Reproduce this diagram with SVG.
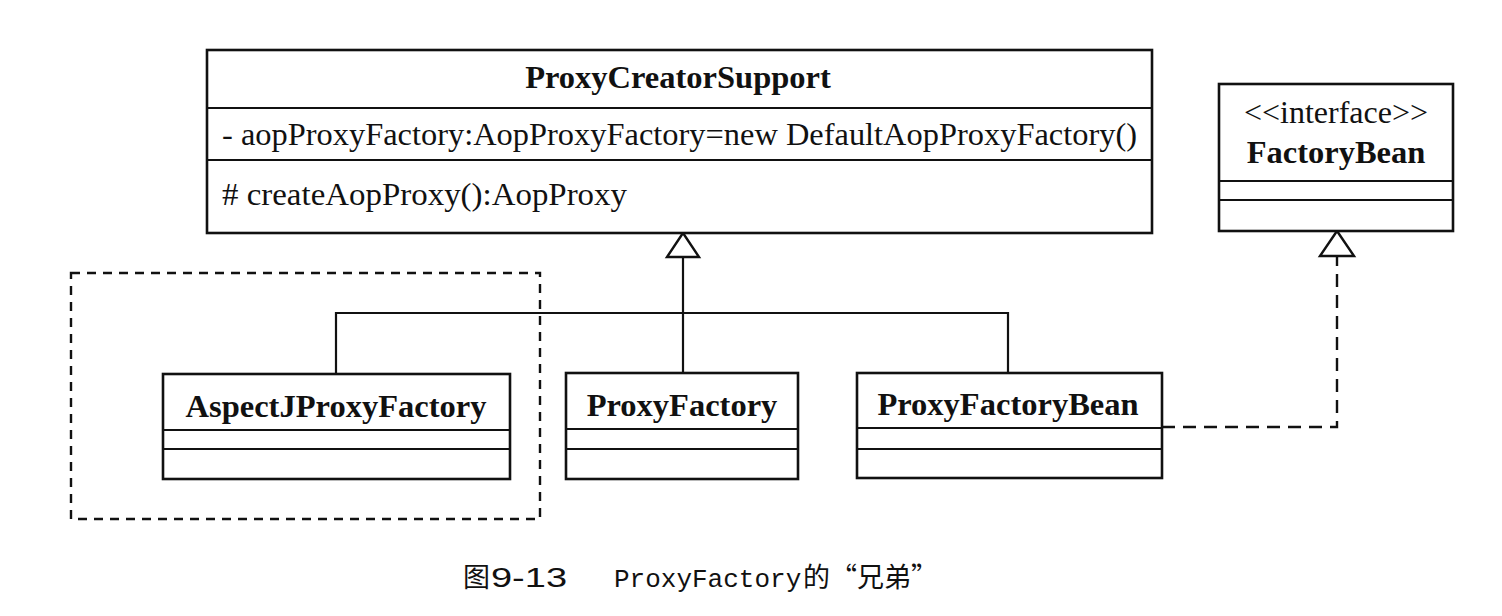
<svg xmlns="http://www.w3.org/2000/svg" width="1502" height="616" viewBox="0 0 1502 616">
<style>
.box{fill:#fff;stroke:#111;stroke-width:2.6}
.sep{stroke:#111;stroke-width:2}
.name{font-family:"Liberation Serif","Times New Roman",serif;font-weight:bold;font-size:32.5px;fill:#111}
.txt{font-family:"Liberation Serif","Times New Roman",serif;font-size:32px;fill:#111}
.line{fill:none;stroke:#111;stroke-width:2.2}
.dash{fill:none;stroke:#111;stroke-width:2.4;stroke-dasharray:13 8}
.tri{fill:#fff;stroke:#111;stroke-width:2.4;stroke-linejoin:miter}
.cap{font-size:27px;fill:#111}
</style>
<rect width="1502" height="616" fill="#fff"/>

<g id="package-boundary">
<rect x="71" y="273" width="469" height="246" fill="none" stroke="#111" stroke-width="2.4" stroke-dasharray="9 7"/>
</g>

<g id="connectors">
<polyline class="line" points="683,257 683,373"/>
<polyline class="line" points="336,374 336,313 1008,313 1008,373"/>
<polygon class="tri" points="683,233 667,257 699,257"/>
<polyline class="dash" points="1162,427 1337,427 1337,256"/>
<polygon class="tri" points="1337,231 1320,256 1354,256"/>
</g>

<g id="ProxyCreatorSupport">
<rect class="box" x="207" y="50" width="945" height="183"/>
<line class="sep" x1="207" y1="108" x2="1152" y2="108"/>
<line class="sep" x1="207" y1="160" x2="1152" y2="160"/>
<text class="name" x="678" y="88" text-anchor="middle">ProxyCreatorSupport</text>
<text class="txt" x="222" y="145" textLength="915" lengthAdjust="spacingAndGlyphs">- aopProxyFactory:AopProxyFactory=new DefaultAopProxyFactory()</text>
<text class="txt" x="222" y="205" textLength="405" lengthAdjust="spacingAndGlyphs"># createAopProxy():AopProxy</text>
</g>

<g id="FactoryBean">
<rect class="box" x="1219" y="84" width="234" height="147"/>
<line class="sep" x1="1219" y1="181" x2="1453" y2="181"/>
<line class="sep" x1="1219" y1="200" x2="1453" y2="200"/>
<text class="txt" x="1336" y="123" text-anchor="middle">&lt;&lt;interface&gt;&gt;</text>
<text class="name" x="1336" y="163" text-anchor="middle">FactoryBean</text>
</g>

<g id="AspectJProxyFactory">
<rect class="box" x="163" y="374" width="347" height="105"/>
<line class="sep" x1="163" y1="430" x2="510" y2="430"/>
<line class="sep" x1="163" y1="449" x2="510" y2="449"/>
<text class="name" x="336" y="417" text-anchor="middle">AspectJProxyFactory</text>
</g>

<g id="ProxyFactory">
<rect class="box" x="566" y="373" width="232" height="106"/>
<line class="sep" x1="566" y1="429" x2="798" y2="429"/>
<line class="sep" x1="566" y1="449" x2="798" y2="449"/>
<text class="name" x="682" y="416" text-anchor="middle">ProxyFactory</text>
</g>

<g id="ProxyFactoryBean">
<rect class="box" x="857" y="373" width="305" height="105"/>
<line class="sep" x1="857" y1="428" x2="1162" y2="428"/>
<line class="sep" x1="857" y1="449" x2="1162" y2="449"/>
<text class="name" x="1008" y="415" text-anchor="middle">ProxyFactoryBean</text>
</g>

<g id="caption">
<text class="cap" y="587"><tspan x="463" font-family="'Noto Sans CJK SC',sans-serif">图</tspan><tspan x="491" font-family="'Liberation Sans',sans-serif" font-size="28" textLength="76" lengthAdjust="spacingAndGlyphs">9-13</tspan><tspan x="614" font-family="'Liberation Mono',monospace" font-size="26">ProxyFactory</tspan><tspan x="803" font-family="'Noto Sans CJK SC',sans-serif">的“兄弟”</tspan></text>
</g>
</svg>
